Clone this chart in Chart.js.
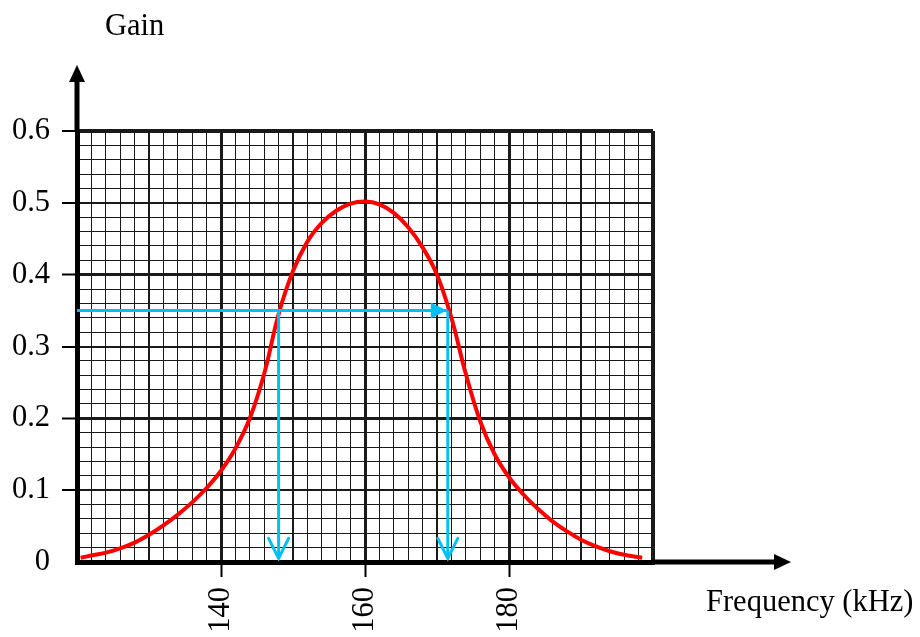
<!DOCTYPE html>
<html>
<head>
<meta charset="utf-8">
<title>Gain - Frequency</title>
<script src="https://cdn.jsdelivr.net/npm/chart.js@4.4.0/dist/chart.umd.min.js"></script>
<style>
  html, body { margin: 0; padding: 0; background: #fff; }
</style>
</head>
<body>
<canvas id="grafico" width="920" height="637"></canvas>
<script>
// ==================== DATOS ====================

// Curva de ganancia (kHz -> ganancia)
const frecuencias = [120.5, 122, 124, 126, 128, 130, 132, 134, 136, 138, 140, 142, 144, 146, 148, 150,
                     152, 154, 156, 158, 160, 162, 164, 166, 168, 170, 172, 174, 176, 178, 180,
                     182, 184, 186, 188, 190, 192, 194, 196, 198.5];
const ganancias = [0.006, 0.009, 0.013, 0.019, 0.027, 0.038, 0.051, 0.066, 0.083, 0.103, 0.127, 0.158, 0.200, 0.262, 0.345, 0.405,
                   0.446, 0.472, 0.489, 0.499, 0.502, 0.498, 0.486, 0.466, 0.438, 0.400, 0.340, 0.262, 0.196, 0.150, 0.118,
                   0.094, 0.074, 0.057, 0.043, 0.031, 0.022, 0.015, 0.010, 0.006];

// Lineas de corte (azul)
const nivelCorte = 0.35;
const frecCorte = [148, 171.5];
const finCorte = 0.005;

// Etiquetas de los ejes
const ticksX = [140, 160, 180];
const ticksY = [0, 0.1, 0.2, 0.3, 0.4, 0.5, 0.6];

// ==================== ESTILOS ====================

const FUENTE = { family: '"Liberation Serif", "Times New Roman", serif', size: 30.5 };
const AZUL = '#00bff5';
const ROJO = '#ff0000';

function anchoLineaX(v) {
    if (v === 120 || v === 200) return 4;
    if (v % 20 === 0) return 3;
    if (v % 10 === 0) return 2;
    return 1;
}

function anchoLineaY(v) {
    const c = Math.round(v * 100);
    if (c === 0 || c === 60) return 4;
    if (c % 20 === 0) return 3;
    if (c % 10 === 0) return 2;
    return 1;
}

function esTickY(v) {
    return ticksY.some(t => Math.abs(t - v) < 1e-6);
}

// Flechas de ejes, puntas azules y textos de ejes
const flechas = {
    id: 'flechas',
    afterDatasetsDraw(chart) {
        const { ctx, chartArea: a, scales: { x, y } } = chart;
        ctx.save();

        // eje vertical prolongado con punta
        ctx.strokeStyle = '#000';
        ctx.fillStyle = '#000';
        ctx.lineWidth = 5;
        ctx.beginPath();
        ctx.moveTo(a.left, a.top);
        ctx.lineTo(a.left, a.top - 50);
        ctx.stroke();
        ctx.beginPath();
        ctx.moveTo(a.left, a.top - 66);
        ctx.lineTo(a.left - 8, a.top - 49);
        ctx.lineTo(a.left + 8, a.top - 49);
        ctx.closePath();
        ctx.fill();

        // eje horizontal prolongado con punta
        ctx.beginPath();
        ctx.moveTo(a.right, a.bottom);
        ctx.lineTo(a.right + 124, a.bottom);
        ctx.stroke();
        ctx.beginPath();
        ctx.moveTo(a.right + 138, a.bottom);
        ctx.lineTo(a.right + 121, a.bottom - 8);
        ctx.lineTo(a.right + 121, a.bottom + 8);
        ctx.closePath();
        ctx.fill();

        // punta azul horizontal (rellena)
        const py = y.getPixelForValue(nivelCorte);
        const px2 = x.getPixelForValue(frecCorte[1]);
        ctx.fillStyle = AZUL;
        ctx.beginPath();
        ctx.moveTo(px2 - 1, py);
        ctx.lineTo(px2 - 17, py - 8);
        ctx.lineTo(px2 - 17, py + 8);
        ctx.closePath();
        ctx.fill();

        // puntas azules hacia abajo (abiertas)
        ctx.strokeStyle = AZUL;
        ctx.lineWidth = 3;
        ctx.lineCap = 'round';
        const pyFin = y.getPixelForValue(finCorte);
        frecCorte.forEach(f => {
            const px = x.getPixelForValue(f);
            ctx.beginPath();
            ctx.moveTo(px - 10, pyFin - 20);
            ctx.lineTo(px, pyFin);
            ctx.lineTo(px + 10, pyFin - 20);
            ctx.stroke();
        });

        // titulos de los ejes
        ctx.fillStyle = '#000';
        ctx.font = `${FUENTE.size}px ${FUENTE.family}`;
        ctx.textBaseline = 'alphabetic';
        ctx.textAlign = 'left';
        ctx.fillText('Gain', a.left + 28, 35);
        ctx.fillText('Frequency (kHz)', a.right + 53, 611);

        ctx.restore();
    }
};

// ==================== GRAFICO ====================

const lineaAzul = (datos) => ({
    data: datos,
    borderColor: AZUL,
    borderWidth: 3,
    pointRadius: 0,
    fill: false,
    tension: 0
});

new Chart(document.getElementById('grafico'), {
    type: 'line',
    data: {
        datasets: [
            lineaAzul([{ x: 120, y: nivelCorte }, { x: frecCorte[1], y: nivelCorte }]),
            lineaAzul([{ x: frecCorte[0], y: nivelCorte }, { x: frecCorte[0], y: finCorte }]),
            lineaAzul([{ x: frecCorte[1], y: nivelCorte }, { x: frecCorte[1], y: finCorte }]),
            {
                label: 'Gain',
                data: frecuencias.map((f, i) => ({ x: f, y: ganancias[i] })),
                borderColor: ROJO,
                borderWidth: 4,
                pointRadius: 0,
                fill: false,
                tension: 0.4
            }
        ]
    },
    options: {
        responsive: false,
        animation: false,
        devicePixelRatio: 1,
        layout: { padding: { top: 131, right: 267, left: 0, bottom: 0 } },
        plugins: {
            legend: { display: false },
            tooltip: { enabled: false }
        },
        scales: {
            x: {
                type: 'linear',
                min: 120,
                max: 200,
                afterFit: (s) => { s.height = 75; },
                ticks: {
                    stepSize: 2,
                    autoSkip: false,
                    minRotation: 90,
                    maxRotation: 90,
                    padding: 10,
                    color: '#000',
                    font: FUENTE,
                    callback: (v) => ticksX.includes(v) ? String(v) : ''
                },
                grid: {
                    color: '#1a1a1a',
                    lineWidth: (c) => anchoLineaX(c.tick.value),
                    tickLength: 15,
                    tickWidth: 2,
                    tickColor: (c) => ticksX.includes(c.tick.value) ? '#000' : 'rgba(0,0,0,0)'
                },
                border: { display: true, width: 5, color: '#000' }
            },
            y: {
                type: 'linear',
                min: 0,
                max: 0.6,
                afterFit: (s) => { s.width = 77; },
                ticks: {
                    stepSize: 0.02,
                    autoSkip: false,
                    padding: 12,
                    color: '#000',
                    font: FUENTE,
                    callback: (v) => esTickY(v) ? (v === 0 ? '0' : v.toFixed(1)) : ''
                },
                grid: {
                    color: '#1a1a1a',
                    lineWidth: (c) => anchoLineaY(c.tick.value),
                    tickLength: 15,
                    tickWidth: 2,
                    tickColor: (c) => (esTickY(c.tick.value) && c.tick.value > 0) ? '#000' : 'rgba(0,0,0,0)'
                },
                border: { display: true, width: 5, color: '#000' }
            }
        }
    },
    plugins: [flechas]
});
</script>
</body>
</html>
